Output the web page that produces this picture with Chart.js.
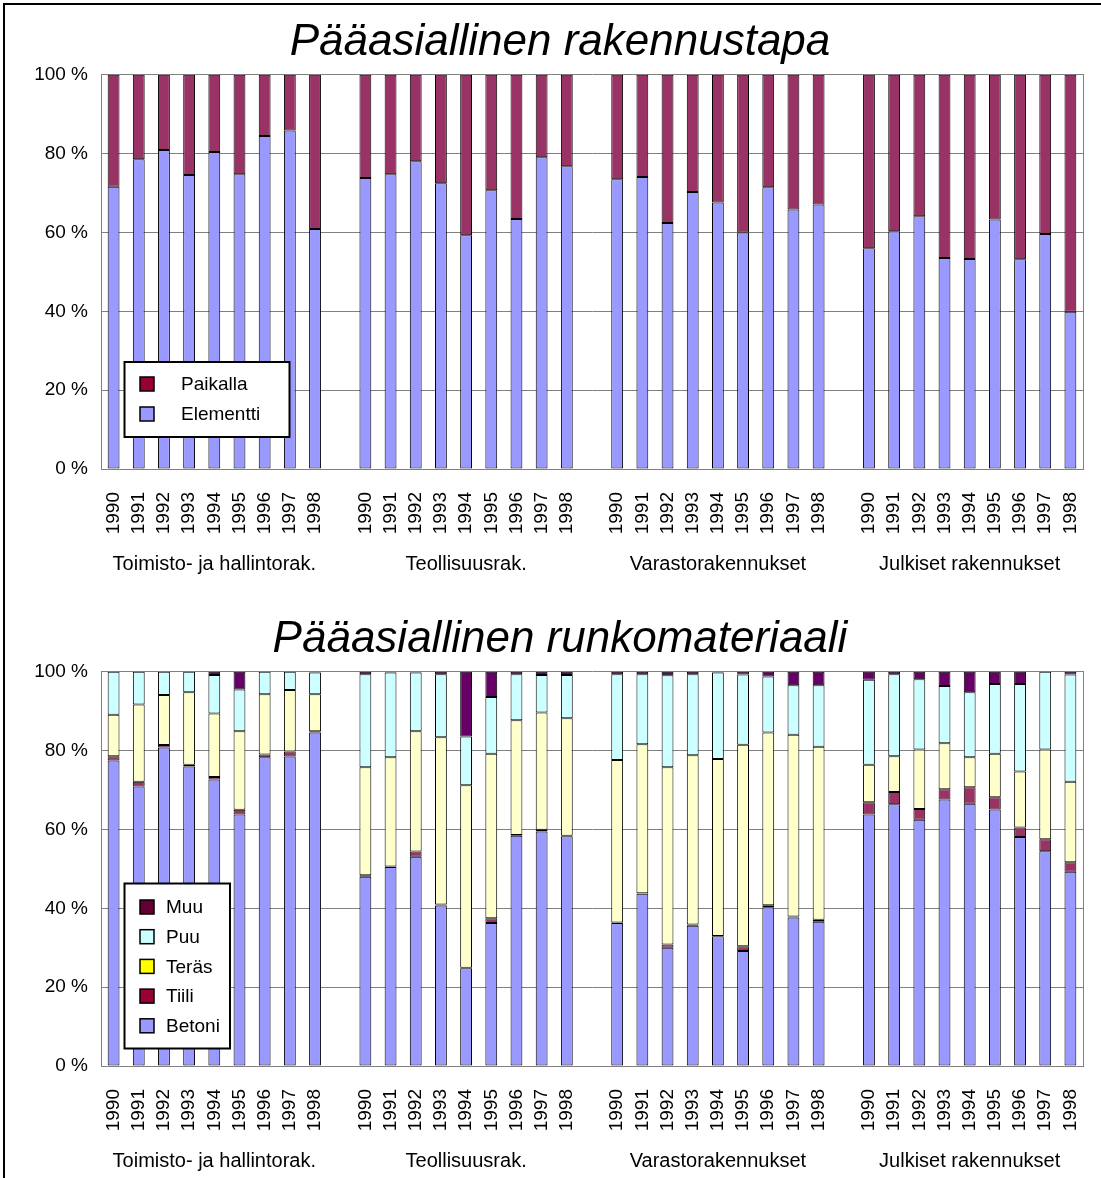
<!DOCTYPE html>
<html>
<head>
<meta charset="utf-8">
<script src="https://cdn.jsdelivr.net/npm/chart.js"></script>
<style>
  html, body { margin: 0; padding: 0; background: #fff; overflow: hidden; }
  #frame { position: absolute; left: 3px; top: 3px; width: 1200px; height: 1300px; border: 2px solid #000; }
  .wrap { position: absolute; left: 0; width: 1120px; height: 581px; }
</style>
</head>
<body>
<div id="frame"></div>
<div class="wrap" style="top:0"><canvas id="chartTop" width="1120" height="581"></canvas></div>
<div class="wrap" style="top:597px"><canvas id="chartBottom" width="1120" height="581"></canvas></div>
<script>
const years = ["1990", "1991", "1992", "1993", "1994", "1995", "1996", "1997", "1998"];
const groups = ["Toimisto- ja hallintorak.", "Teollisuusrak.", "Varastorakennukset", "Julkiset rakennukset"];

// Pääasiallinen rakennustapa (%), 9 years per group
const elementti = [
  71.6, 78.6, 80.9, 74.6, 80.4, 74.8, 84.5, 85.9, 60.9,
  73.8, 74.8, 78.1, 72.5, 59.3, 70.7, 63.4, 79.1, 76.8,
  73.5, 74.1, 62.4, 70.3, 67.6, 60.0, 71.5, 65.8, 67.1,
  56.0, 60.3, 64.1, 53.5, 53.3, 63.3, 53.2, 59.6, 39.9
];
const paikalla = [
  28.4, 21.4, 19.1, 25.4, 19.6, 25.2, 15.5, 14.1, 39.1,
  26.2, 25.2, 21.9, 27.5, 40.7, 29.3, 36.6, 20.9, 23.2,
  26.5, 25.9, 37.6, 29.7, 32.4, 40.0, 28.5, 34.2, 32.9,
  44.0, 39.7, 35.9, 46.5, 46.7, 36.7, 46.8, 40.4, 60.1
];

// Pääasiallinen runkomateriaali (%)
const betoni = [
  77.5, 70.9, 80.8, 76.0, 72.7, 63.8, 78.3, 78.5, 84.6,
  48.0, 50.5, 53.1, 40.7, 24.8, 36.3, 58.4, 59.5, 58.3,
  36.3, 43.7, 30.0, 35.6, 32.9, 29.2, 40.3, 37.7, 36.6,
  63.8, 66.4, 62.5, 67.6, 66.5, 65.1, 58.1, 54.5, 49.3
];
const tiili = [
  1.1, 1.2, 0.6, 0.4, 0.6, 1.2, 0.7, 1.3, 0.3,
  0.4, 0.1, 1.3, 0.3, 0.1, 1.2, 0.2, 0.4, 0.1,
  0.1, 0.1, 0.8, 0.3, 0.1, 1.2, 0.5, 0.2, 0.5,
  3.1, 3.1, 2.7, 2.6, 4.2, 3.1, 2.4, 3.0, 2.4
];
const teras = [
  10.5, 19.6, 12.7, 18.4, 16.1, 19.9, 15.3, 15.6, 9.4,
  27.4, 27.7, 30.5, 42.4, 46.3, 41.7, 29.1, 29.8, 29.8,
  41.2, 37.8, 45.0, 42.9, 44.9, 51.1, 43.8, 46.1, 43.9,
  9.5, 9.1, 15.1, 11.7, 7.6, 11.0, 14.2, 22.8, 20.4
];
const puu = [
  10.9, 8.3, 5.9, 5.2, 9.8, 10.6, 5.7, 4.6, 5.5,
  23.6, 21.5, 14.9, 16.0, 12.4, 14.4, 11.7, 9.5, 11.0,
  21.8, 17.8, 23.3, 20.6, 21.9, 17.8, 14.2, 12.6, 15.6,
  21.6, 20.8, 17.8, 14.5, 16.5, 17.7, 22.2, 19.7, 27.2
];
const muu = [
  0, 0, 0, 0, 0.8, 4.5, 0, 0, 0.2,
  0.6, 0.2, 0.2, 0.6, 16.4, 6.4, 0.6, 0.8, 0.8,
  0.6, 0.6, 0.9, 0.6, 0.2, 0.7, 1.2, 3.4, 3.4,
  2.0, 0.6, 1.9, 3.6, 5.2, 3.1, 3.1, 0, 0.7
];

const FONT = "'Liberation Sans', Arial, sans-serif";
Chart.defaults.font.family = FONT;
Chart.defaults.color = "#000";

// one empty category between groups
const labels = [];
groups.forEach((g, gi) => {
  if (gi > 0) labels.push("");
  years.forEach((y) => labels.push(y));
});
const groupCenters = groups.map((g, gi) => gi * 10 + 4);

function withGaps(values) {
  const out = [];
  values.forEach((v, i) => {
    if (i > 0 && i % 9 == 0) out.push(null);
    out.push(v);
  });
  return out;
}

function series(label, values, color) {
  return {
    label: label,
    data: withGaps(values),
    backgroundColor: color,
    borderColor: "#000",
    borderWidth: 1,
    borderSkipped: false,
    categoryPercentage: 0.94,
    barPercentage: 0.5,
  };
}

// legend drawn as a framed box inside the plot, like the original
const boxLegend = {
  id: "boxLegend",
  afterDraw(chart, args, opts) {
    const ctx = chart.ctx;
    ctx.save();
    ctx.fillStyle = "#fff";
    ctx.fillRect(opts.x, opts.y, opts.w, opts.h);
    ctx.lineWidth = 2;
    ctx.strokeStyle = "#000";
    ctx.strokeRect(opts.x, opts.y, opts.w, opts.h);
    const items = chart.data.datasets.map((d, i) => ({ label: d.label, color: opts.colors[i] })).reverse();
    ctx.font = "19px " + FONT;
    ctx.textBaseline = "middle";
    items.forEach((it, i) => {
      const cy = opts.rowY + i * opts.rowGap;
      ctx.fillStyle = it.color;
      ctx.fillRect(opts.swatchX, cy - 7, 14, 14);
      ctx.lineWidth = 1.5;
      ctx.strokeStyle = "#000";
      ctx.strokeRect(opts.swatchX, cy - 7, 14, 14);
      ctx.fillStyle = "#000";
      ctx.fillText(it.label, opts.textX, cy + 1);
    });
    ctx.restore();
  },
};

function makeChart(id, title, datasets, legendOpts) {
  const tickFont = { size: 19 };
  return new Chart(document.getElementById(id), {
    type: "bar",
    data: { labels: labels, datasets: datasets },
    plugins: [boxLegend],
    options: {
      responsive: false,
      devicePixelRatio: 1,
      animation: false,
      layout: { padding: 0 },
      plugins: {
        legend: { display: false },
        tooltip: { enabled: false },
        title: {
          display: true,
          text: title,
          color: "#000",
          font: { size: 44, style: "italic", weight: "normal" },
          padding: { top: 16, bottom: 6 },
        },
        boxLegend: legendOpts,
      },
      scales: {
        x: {
          stacked: true,
          weight: 0,
          grid: { display: false },
          border: { color: "#808080" },
          ticks: { autoSkip: false, minRotation: 90, maxRotation: 90, padding: 15, font: tickFont },
          afterFit(s) { s.height = 71; },
        },
        x2: {
          type: "linear",
          position: "bottom",
          weight: 1,
          offset: false,
          min: -0.5,
          max: 38.5,
          grid: { display: false, offset: false },
          border: { display: false },
          afterBuildTicks(s) { s.ticks = groupCenters.map((v) => ({ value: v })); },
          ticks: {
            autoSkip: false,
            maxRotation: 0,
            padding: 4,
            font: { size: 20 },
            callback: (v) => groups[groupCenters.indexOf(v)],
          },
          afterFit(s) { s.height = 41; },
        },
        y: {
          stacked: true,
          min: 0,
          max: 100,
          grid: { color: "#808080", drawTicks: false },
          border: { color: "#808080" },
          ticks: { stepSize: 20, padding: 13, font: tickFont, callback: (v) => v + " %" },
          afterFit(s) { s.width = 101; },
        },
        y2: {
          position: "right",
          grid: { display: false },
          border: { color: "#808080" },
          ticks: { display: false },
          afterFit(s) { s.width = 37; },
        },
      },
    },
  });
}

makeChart("chartTop", "Pääasiallinen rakennustapa", [
  series("Elementti", elementti, "#9999ff"),
  series("Paikalla", paikalla, "#993366"),
], {
  x: 124.5, y: 362, w: 165, h: 75,
  swatchX: 140, textX: 181, rowY: 384, rowGap: 30,
  colors: ["#9999ff", "#990033"],
});

makeChart("chartBottom", "Pääasiallinen runkomateriaali", [
  series("Betoni", betoni, "#9999ff"),
  series("Tiili", tiili, "#993366"),
  series("Teräs", teras, "#ffffcc"),
  series("Puu", puu, "#ccffff"),
  series("Muu", muu, "#660066"),
], {
  x: 124.5, y: 286.5, w: 105.5, h: 165,
  swatchX: 140, textX: 166, rowY: 310, rowGap: 29.7,
  colors: ["#9999ff", "#990033", "#ffff00", "#ccffff", "#660033"],
});
</script>
</body>
</html>
